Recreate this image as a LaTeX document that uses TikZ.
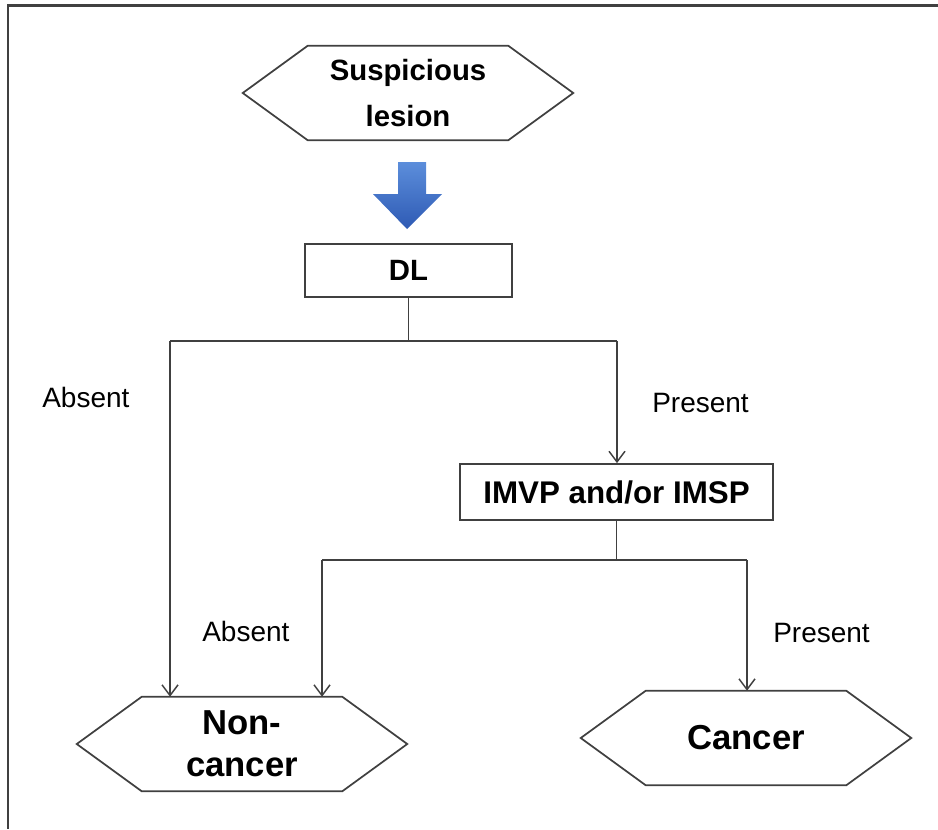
\documentclass[tikz,border=0pt]{standalone}
\usepackage{fontspec}
\setmainfont{Liberation Sans}
\usetikzlibrary{arrows.meta}
\definecolor{linegray}{HTML}{404040}
\definecolor{bluetop}{HTML}{5C8EDB}
\definecolor{bluebot}{HTML}{2E5AB4}
\begin{document}
\begin{tikzpicture}[
        x=0.75pt, y=-0.75pt,
        line/.style={draw=linegray, line width=1.1pt},
        flow/.style={line, -{Straight Barb[length=8pt,width=12pt,line width=1.1pt]}},
        box/.style={draw=linegray, line width=1.3pt, font=\fontsize{22}{26}\selectfont\bfseries, inner sep=0pt},
        hexbox/.style={inner sep=0pt, minimum width=150pt, minimum height=70.5pt, align=center},
        label/.style={anchor=base west, inner sep=0pt, font=\fontsize{21}{25}\selectfont}
    ]
    \useasboundingbox (0,0) rectangle (938,829);
    % frame
    \draw[draw=linegray, line width=1.6pt] (938,5.5) -- (8,5.5) -- (8,829);

    % nodes
    \node[hexbox, font=\fontsize{22}{34}\selectfont\bfseries] (lesion) at (408,93) {\raisebox{-2pt}{Suspicious}\\\raisebox{-2pt}{lesion}};
    \node[box, minimum width=155.25pt, minimum height=39.75pt] (dl) at (408.5,270.5) {DL};
    \node[box, minimum width=234.75pt, minimum height=42pt, font=\fontsize{23.5}{26}\selectfont\bfseries] (imvp) at (616.5,492) {IMVP and/or IMSP};
    \node[hexbox, font=\fontsize{26}{31.5}\selectfont\bfseries] (noncancer) at (242,744) {Non-\\cancer};
    \node[hexbox, font=\fontsize{26}{31.5}\selectfont\bfseries] (cancer) at (746,738) {Cancer};
    \foreach \n in {lesion,noncancer,cancer}
        \draw[line, line width=1.3pt] (\n.north west) -- (\n.north east) -- ([xshift=48.75pt]\n.east)
            -- (\n.south east) -- (\n.south west) -- ([xshift=-48.75pt]\n.west) -- cycle;

    % blue arrow
    \shade[top color=bluetop, bottom color=bluebot]
        (398,162) -- (426,162) -- (426,194) -- (442,194) -- (407,229) -- (373,194) -- (398,194) -- cycle;

    % split points
    \coordinate (a1) at (170,341);
    \coordinate (b1) at (617,341);
    \coordinate (a2) at (322,560);
    \coordinate (b2) at (747,560);

    \draw[line] (dl.south) -- (dl.south |- a1);
    \draw[line] (a1) -- (b1);
    \draw[flow] (a1) -- (a1 |- noncancer.north);
    \draw[flow] (b1) -- (b1 |- imvp.north);
    \draw[line] (imvp.south) -- (imvp.south |- a2);
    \draw[line] (a2) -- (b2);
    \draw[flow] (a2) -- (a2 |- noncancer.north);
    \draw[flow] (b2) -- (b2 |- cancer.north);

    % labels
    \node[label] (abs1) at (42,407) {Absent};
    \node[label] (pre1) at (652,412) {Present};
    \node[label] (abs2) at (202,641) {Absent};
    \node[label] (pre2) at (773,642) {Present};
\end{tikzpicture}
\end{document}
